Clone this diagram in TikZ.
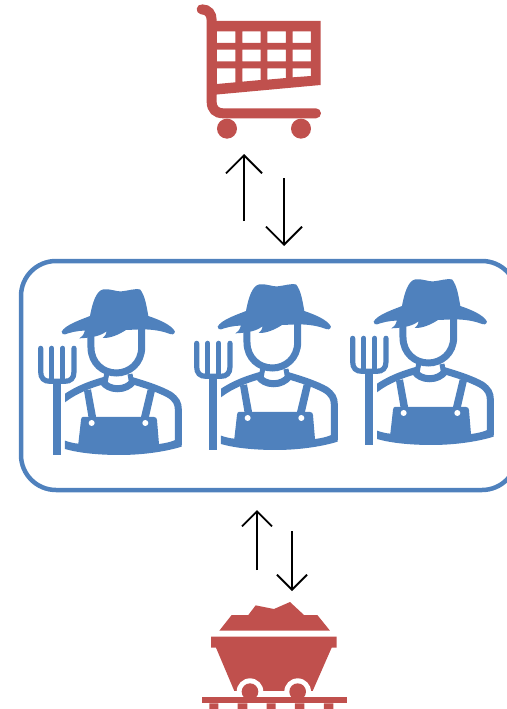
\documentclass[tikz,border=0pt]{standalone}
\usetikzlibrary{arrows.meta}
\definecolor{iconred}{HTML}{C0504D}
\definecolor{iconblue}{HTML}{4F81BD}

\tikzset{
  farmer/.pic={
    % hat
    \fill[iconblue] (125,185) .. controls (135,165) and (180,150) .. (210,138)
      .. controls (217,100) and (228,62) .. (250,58)
      .. controls (275,56) and (290,66) .. (305,64)
      .. controls (325,62) and (345,55) .. (360,58)
      .. controls (375,75) and (380,110) .. (385,138)
      .. controls (420,150) and (455,165) .. (465,185)
      .. controls (462,195) and (455,194) .. (450,192)
      .. controls (425,182) and (395,178) .. (365,178)
      -- (318,180) .. controls (295,195) and (270,205) .. (248,204)
      .. controls (255,198) and (260,192) .. (260,184)
      .. controls (245,195) and (225,203) .. (178,205)
      .. controls (188,198) and (193,192) .. (195,182)
      .. controls (170,182) and (150,188) .. (135,193)
      .. controls (130,194) and (125,192) .. (125,185) -- cycle;
    % head
    \draw[farmerline] (213,195) -- (213,232)
      .. controls (213,280) and (250,309) .. (289,309)
      .. controls (328,309) and (365,280) .. (365,232) -- (365,175);
    % shoulders and collar
    \draw[farmerline] (118,396) -- (135,384) .. controls (165,362) and (205,345) .. (247,333)
      .. controls (265,364) and (320,364) .. (340,333)
      .. controls (380,345) and (420,358) .. (450,375)
      .. controls (468,388) and (475,400) .. (475,418) -- (475,525);
    \fill[white] (105,350) rectangle (135,415);
    \draw[farmerline,line width=5pt] (260,312) -- (255,340);
    \draw[farmerline,line width=5pt] (330,312) -- (335,340);
    % straps
    \fill[iconblue] (192,362) -- (213,358) -- (229,445) -- (206,445) -- cycle;
    \fill[iconblue] (383,358) -- (405,362) -- (386,445) -- (362,445) -- cycle;
    % bib and trousers
    \fill[iconblue] (188,441) -- (402,441) .. controls (408,441) and (410,444) .. (411,450)
      -- (417,522) .. controls (435,520) and (452,516) .. (466,510) -- (485,505) -- (485,530)
      .. controls (430,547) and (360,555) .. (300,555)
      .. controls (240,555) and (180,550) .. (135,537) -- (135,512)
      .. controls (150,517) and (162,520) .. (175,521) -- (183,450)
      .. controls (184,444) and (185,441) .. (188,441) -- cycle;
    \fill[white] (215,459) circle (9) (376,459) circle (9);
    % fork
    \draw[forkline] (62,235) -- (62,305) .. controls (62,325) and (72,334) .. (90,334)
      -- (134,334) .. controls (152,334) and (162,325) .. (162,305) -- (162,235);
    \draw[forkline] (95,235) -- (95,334);
    \draw[forkline] (128,235) -- (128,334);
    \fill[iconblue] (100,334) rectangle (122,554);
  },
  farmerline/.style={draw=iconblue, line width=7pt},
  forkline/.style={draw=iconblue, line width=5.2pt, line cap=round},
  flow/.style={draw=black, line width=1.8pt, -{Straight Barb[length=18pt,width=36pt,line width=1.8pt]}},
  flowsmall/.style={draw=black, line width=1.8pt, -{Straight Barb[length=15pt,width=30pt,line width=1.8pt]}}
}

\begin{document}
\begin{tikzpicture}[x=1pt,y=-1pt]
\useasboundingbox (0,0) rectangle (506,709);

% shop trolley
\begin{scope}[shift={(180,0)},x=0.3333pt,y=-0.3333pt]
\fill[iconred,even odd rule] (95,63) -- (422,63) -- (422,255) -- (95,285) -- cycle
  (111,94) rectangle (166,129) (187,94) rectangle (242,129)
  (262,94) rectangle (318,129) (338,94) rectangle (393,129)
  (111,149) rectangle (166,184) (187,149) rectangle (242,184)
  (262,149) rectangle (318,184) (338,149) rectangle (393,184)
  (111,205) -- (166,205) -- (166,247) -- (111,252) -- cycle
  (187,205) -- (242,205) -- (242,240) -- (187,245) -- cycle
  (262,205) -- (318,205) -- (318,234) -- (262,239) -- cycle
  (338,205) -- (393,205) -- (393,228) -- (338,232) -- cycle;
\draw[iconred,line width=10pt,line cap=round] (65,28) .. controls (85,28) and (95,42) .. (95,60)
  -- (95,305) .. controls (95,328) and (108,340) .. (130,340) -- (408,340);
\fill[iconred] (141,386) circle (30) (363,386) circle (30);
\end{scope}

\coordinate (cartup) at (244,221);
\coordinate (cartupend) at (244,154);
\coordinate (cartdown) at (284,178);
\coordinate (cartdownend) at (284,246);
\draw[flow] (cartup) -- (cartupend);
\draw[flow] (cartdown) -- (cartdownend);

% farmers
\node[draw=iconblue, line width=4.5pt, rounded corners=35pt, minimum width=496pt, minimum height=229pt, inner sep=0pt] (farmers) at (269,375.5) {};
\begin{scope}[shift={(20,270)},x=0.3333pt,y=-0.3333pt]
\pic {farmer};
\end{scope}
\begin{scope}[shift={(176,265)},x=0.3333pt,y=-0.3333pt]
\pic {farmer};
\end{scope}
\begin{scope}[shift={(332,260)},x=0.3333pt,y=-0.3333pt]
\pic {farmer};
\end{scope}

\coordinate (mineup) at (257,570);
\coordinate (mineupend) at (257,510);
\coordinate (minedown) at (292,531);
\coordinate (minedownend) at (292,591);
\draw[flowsmall] (mineup) -- (mineupend);
\draw[flowsmall] (minedown) -- (minedownend);

% mine wagon
\begin{scope}[shift={(190,590)},x=0.3333pt,y=-0.3333pt]
\fill[iconred] (88,122) -- (125,75) -- (175,75) -- (197,46) -- (252,57) -- (300,36) -- (342,75) -- (382,75) -- (420,122) -- cycle;
\fill[iconred] (63,140) -- (440,140) -- (440,173) -- (425,173) -- (368,303) -- (133,303) -- (78,173) -- (63,173) -- cycle;
\fill[white] (180,305) circle (40) (323,305) circle (40);
\fill[white] (133,303) rectangle (370,321);
\fill[iconred] (180,305) circle (25) (323,305) circle (25);
\fill[iconred] (35,321) rectangle (470,340);
\fill[iconred] (58,340) rectangle (85,357) (143,340) rectangle (172,357) (230,340) rectangle (257,357) (315,340) rectangle (343,357) (402,340) rectangle (430,357);
\end{scope}
\end{tikzpicture}
\end{document}
